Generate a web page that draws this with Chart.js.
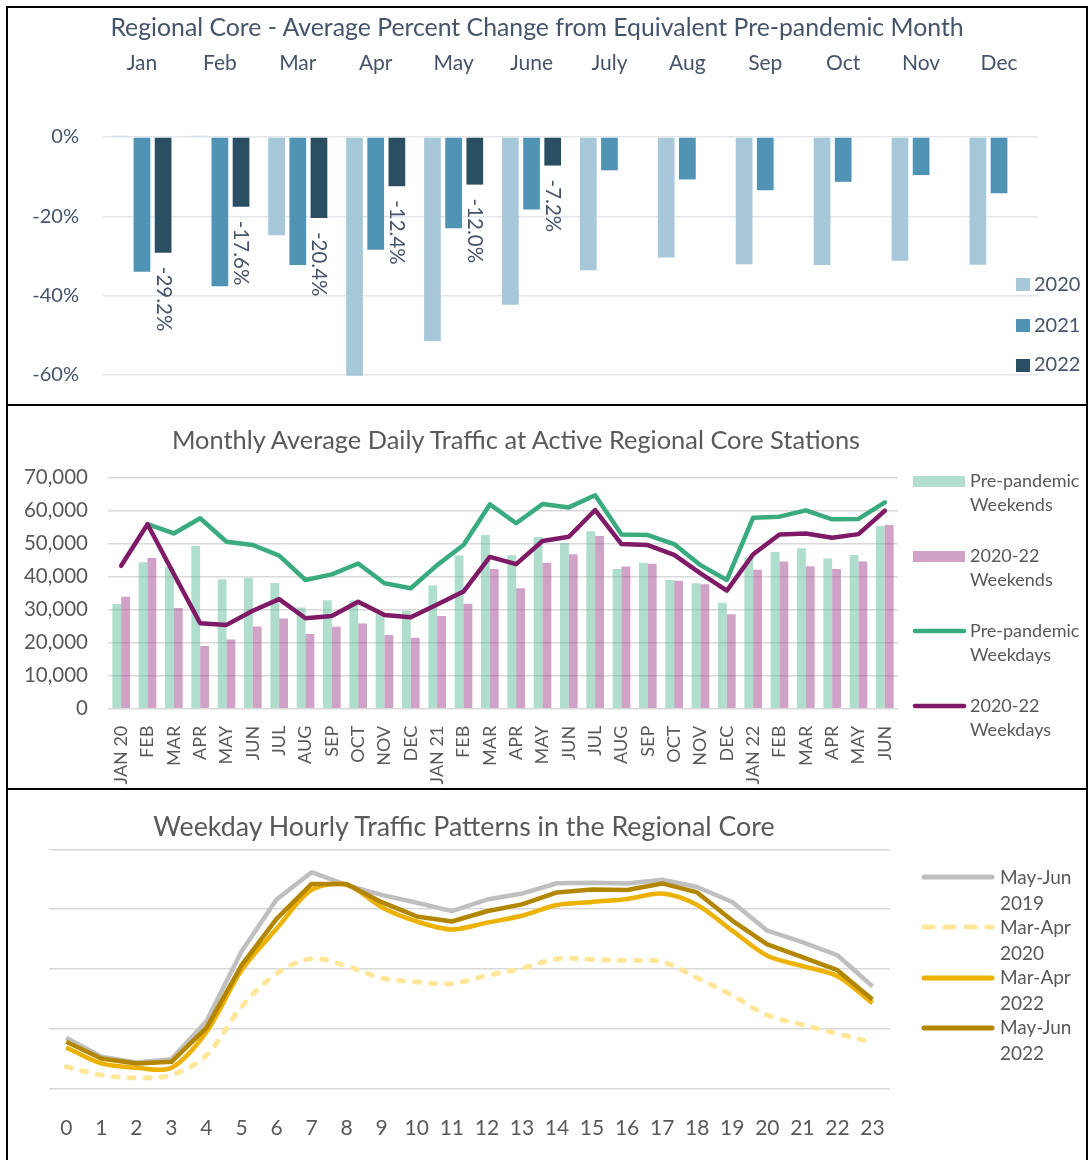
<!DOCTYPE html>
<html>
<head>
<meta charset="utf-8">
<script src="https://cdn.jsdelivr.net/npm/chart.js@4.4.1/dist/chart.umd.min.js"></script>
<style>
  body { margin: 0; width: 1088px; height: 1160px; overflow: hidden; background: #fff; position: relative; font-family: Lato, sans-serif; }
  .panel { position: absolute; left: 6px; width: 1082px; box-sizing: border-box; border: 2px solid #000; }
  canvas { position: absolute; }
  .txt { position: absolute; white-space: nowrap; }
  .title { width: 1000px; text-align: center; }
  .sw { position: absolute; }
</style>
</head>
<body>
<div class="panel" style="top:6px;height:400px"></div>
<div class="panel" style="top:404px;height:386px"></div>
<div class="panel" style="top:788px;height:400px"></div>

<canvas id="pctChart" width="1078" height="403" style="left:8px;top:8px"></canvas>
<canvas id="trafficChart" width="1078" height="382" style="left:8px;top:406px"></canvas>
<canvas id="hourlyChart" width="1078" height="370" style="left:8px;top:790px"></canvas>

<!-- titles -->
<div class="txt title" style="left:37px;top:15px;font-size:24.8px;line-height:24.8px;color:#44546A">Regional Core - Average Percent Change from Equivalent Pre-pandemic Month</div>
<div class="txt title" style="left:16px;top:427px;font-size:25.4px;line-height:25.4px;color:#595959">Monthly Average Daily Traffic at Active Regional Core Stations</div>
<div class="txt title" style="left:-36px;top:813px;font-size:26.8px;line-height:26.8px;color:#595959">Weekday Hourly Traffic Patterns in the Regional Core</div>

<!-- legend: percent change -->
<div class="sw" style="left:1016px;top:278px;width:14px;height:13px;background:#A6C8D9"></div>
<div class="sw" style="left:1016px;top:319px;width:14px;height:13px;background:#5193B5"></div>
<div class="sw" style="left:1016px;top:359px;width:14px;height:13px;background:#2A4E62"></div>
<div class="txt" style="left:1034px;top:273px;font-size:20px;line-height:20px;color:#44546A">2020</div>
<div class="txt" style="left:1034px;top:314px;font-size:20px;line-height:20px;color:#44546A">2021</div>
<div class="txt" style="left:1034px;top:353px;font-size:20px;line-height:20px;color:#44546A">2022</div>

<!-- legend: daily traffic -->
<div class="sw" style="left:913px;top:476px;width:52px;height:11px;background:#B1DECD"></div>
<div class="sw" style="left:913px;top:551px;width:52px;height:11px;background:#D1A2C7"></div>
<svg class="sw" style="left:0;top:0" width="1088" height="1160">
  <line x1="915" y1="631" x2="964" y2="631" stroke="#3AAB7E" stroke-width="4.5" stroke-linecap="round"/>
  <line x1="915" y1="706" x2="964" y2="706" stroke="#7E1A66" stroke-width="4.5" stroke-linecap="round"/>
  <line x1="924" y1="877" x2="992" y2="877" stroke="#BFBFBF" stroke-width="5" stroke-linecap="round"/>
  <line x1="924" y1="927" x2="992" y2="927" stroke="#FFE699" stroke-width="5" stroke-linecap="round" stroke-dasharray="9 12"/>
  <line x1="924" y1="978" x2="992" y2="978" stroke="#EDB100" stroke-width="5" stroke-linecap="round"/>
  <line x1="924" y1="1028" x2="992" y2="1028" stroke="#B38600" stroke-width="5" stroke-linecap="round"/>
</svg>
<div class="txt" style="left:970px;top:468px;font-size:18px;line-height:24px;color:#595959">Pre-pandemic<br>Weekends</div>
<div class="txt" style="left:970px;top:543px;font-size:18px;line-height:24px;color:#595959">2020-22<br>Weekends</div>
<div class="txt" style="left:970px;top:618px;font-size:18px;line-height:24px;color:#595959">Pre-pandemic<br>Weekdays</div>
<div class="txt" style="left:970px;top:693px;font-size:18px;line-height:24px;color:#595959">2020-22<br>Weekdays</div>

<!-- legend: hourly -->
<div class="txt" style="left:1000px;top:864px;font-size:19px;line-height:25.5px;color:#595959">May-Jun<br>2019</div>
<div class="txt" style="left:1000px;top:914px;font-size:19px;line-height:25.5px;color:#595959">Mar-Apr<br>2020</div>
<div class="txt" style="left:1000px;top:964px;font-size:19px;line-height:25.5px;color:#595959">Mar-Apr<br>2022</div>
<div class="txt" style="left:1000px;top:1014px;font-size:19px;line-height:25.5px;color:#595959">May-Jun<br>2022</div>

<script>
// percent change from equivalent pre-pandemic month
const months = ['Jan', 'Feb', 'Mar', 'Apr', 'May', 'June', 'July', 'Aug', 'Sep', 'Oct', 'Nov', 'Dec'];
const pct2020 = [0.3, 0.3, -24.8, -60.2, -51.4, -42.3, -33.6, -30.4, -32.1, -32.3, -31.2, -32.2];
const pct2021 = [-34.0, -37.6, -32.3, -28.4, -23.0, -18.3, -8.4, -10.7, -13.4, -11.3, -9.6, -14.2];
const pct2022 = [-29.2, -17.6, -20.4, -12.4, -12.0, -7.2, null, null, null, null, null, null];

// monthly average daily traffic
const trafficMonths = ['JAN 20', 'FEB', 'MAR', 'APR', 'MAY', 'JUN', 'JUL', 'AUG', 'SEP', 'OCT', 'NOV', 'DEC',
  'JAN 21', 'FEB', 'MAR', 'APR', 'MAY', 'JUN', 'JUL', 'AUG', 'SEP', 'OCT', 'NOV', 'DEC',
  'JAN 22', 'FEB', 'MAR', 'APR', 'MAY', 'JUN'];
const prePandemicWeekends = [31700, 44400, 43000, 49300, 39200, 39700, 38100, 30700, 32900, 32800, 28800, 29700,
  37300, 46400, 52600, 46600, 52000, 50200, 53800, 42300, 44200, 39000, 38000, 32100,
  45800, 47500, 48600, 45500, 46600, 55400];
const weekends2020to22 = [33900, 45700, 30500, 19000, 21000, 24900, 27300, 22600, 24800, 25800, 22300, 21500,
  28100, 31800, 42300, 36500, 44200, 46800, 52300, 43100, 43900, 38800, 37700, 28600,
  42100, 44600, 43200, 42300, 44600, 55700];
const prePandemicWeekdays = [null, 55900, 53100, 57700, 50600, 49600, 46400, 39000, 40700, 44000, 38000, 36500,
  43500, 49600, 61900, 56200, 62000, 61000, 64700, 52800, 52600, 49900, 43500, 39000,
  57900, 58200, 60100, 57400, 57500, 62500];
const weekdays2020to22 = [43300, 55900, 40800, 25900, 25400, 29700, 33200, 27400, 28100, 32400, 28400, 27700,
  31600, 35500, 46000, 43800, 50800, 52100, 60200, 49900, 49600, 46600, 41000, 35800,
  46800, 52800, 53100, 51800, 52900, 60000];

// weekday hourly traffic (no y labels on the original, units arbitrary)
const hours = ['0', '1', '2', '3', '4', '5', '6', '7', '8', '9', '10', '11', '12', '13', '14', '15', '16', '17', '18', '19', '20', '21', '22', '23'];
const mayJun2019 = [850, 533, 440, 494, 1128, 2294, 3161, 3617, 3400, 3239, 3106, 2967, 3160, 3260, 3433, 3440, 3430, 3490, 3370, 3120, 2640, 2450, 2230, 1710];
const marApr2020 = [367, 228, 183, 228, 561, 1367, 1922, 2172, 2050, 1850, 1783, 1756, 1890, 2010, 2170, 2160, 2140, 2120, 1850, 1560, 1230, 1070, 920, 770];
const marApr2022 = [689, 422, 350, 350, 950, 1978, 2672, 3322, 3406, 3033, 2794, 2661, 2775, 2890, 3070, 3120, 3170, 3260, 3070, 2640, 2220, 2050, 1880, 1430];
const mayJun2022 = [783, 506, 422, 450, 1017, 2061, 2839, 3422, 3422, 3117, 2878, 2794, 2965, 3080, 3280, 3330, 3320, 3430, 3280, 2810, 2410, 2200, 1980, 1490];

const slate = '#44546A';
const grey = '#595959';

// 2022 value labels, rotated, under the end of each bar
const barLabels = {
  id: 'barLabels',
  afterDatasetsDraw(chart) {
    const ctx = chart.ctx;
    const meta = chart.getDatasetMeta(2);
    ctx.save();
    ctx.fillStyle = slate;
    ctx.font = '20.5px Lato';
    ctx.textAlign = 'left';
    ctx.textBaseline = 'middle';
    meta.data.forEach((bar, i) => {
      const v = pct2022[i];
      if (v === null) return;
      ctx.save();
      ctx.translate(bar.x, bar.y + 14);
      ctx.rotate(Math.PI / 2);
      ctx.fillText(v.toFixed(1) + '%', 0, 0);
      ctx.restore();
    });
    ctx.restore();
  }
};

new Chart(document.getElementById('pctChart'), {
  type: 'bar',
  data: {
    labels: months,
    datasets: [
      { label: '2020', data: pct2020, backgroundColor: '#A6C8D9', clip: false, categoryPercentage: 0.815, barPercentage: 0.79 },
      { label: '2021', data: pct2021, backgroundColor: '#5193B5', clip: false, categoryPercentage: 0.815, barPercentage: 0.79 },
      { label: '2022', data: pct2022, backgroundColor: '#2A4E62', clip: false, categoryPercentage: 0.815, barPercentage: 0.79 }
    ]
  },
  options: {
    responsive: false,
    animation: false,
    // bottom room comes from the y tick padding (label half height + 24)
    layout: { padding: { top: 0, right: 48, bottom: 0, left: 0 } },
    plugins: { legend: { display: false }, tooltip: { enabled: false } },
    scales: {
      x: {
        position: 'top',
        grid: { display: false },
        border: { display: false },
        ticks: { color: slate, font: { family: 'Lato', size: 21 }, padding: 53 },
        afterFit: (s) => { s.height = 129; }
      },
      y: {
        min: -60,
        max: 0,
        ticks: { stepSize: 20, color: slate, font: { family: 'Lato', size: 20 }, padding: 24, callback: (v) => v + '%' },
        grid: { color: '#E2E6EA', lineWidth: 1.5, drawTicks: false },
        border: { display: false },
        afterFit: (s) => { s.width = 95; }
      }
    }
  },
  plugins: [barLabels]
});

new Chart(document.getElementById('trafficChart'), {
  type: 'bar',
  data: {
    labels: trafficMonths,
    datasets: [
      { type: 'line', label: 'Pre-pandemic Weekdays', data: prePandemicWeekdays, borderColor: '#3AAB7E', borderWidth: 4.5,
        pointRadius: 0, borderJoinStyle: 'round', borderCapStyle: 'round', order: 1 },
      { type: 'line', label: '2020-22 Weekdays', data: weekdays2020to22, borderColor: '#7E1A66', borderWidth: 4.5,
        pointRadius: 0, borderJoinStyle: 'round', borderCapStyle: 'round', order: 0 },
      { label: 'Pre-pandemic Weekends', data: prePandemicWeekends, backgroundColor: 'rgba(98,190,155,0.5)',
        categoryPercentage: 0.67, barPercentage: 1, order: 2 },
      { label: '2020-22 Weekends', data: weekends2020to22, backgroundColor: 'rgba(164,70,144,0.5)',
        categoryPercentage: 0.67, barPercentage: 1, order: 2 }
    ]
  },
  options: {
    responsive: false,
    animation: false,
    layout: { padding: { top: 71.7, right: 188, bottom: 0, left: 0 } },
    plugins: { legend: { display: false }, tooltip: { enabled: false } },
    scales: {
      x: {
        grid: { display: false },
        border: { display: false },
        ticks: { color: grey, font: { family: 'Lato', size: 18 }, padding: 9, minRotation: 90, maxRotation: 90, autoSkip: false },
        afterFit: (s) => { s.height = 79.3; }
      },
      y: {
        min: 0,
        max: 70000,
        ticks: { stepSize: 10000, color: grey, font: { family: 'Lato', size: 20.5 }, padding: 20,
          callback: (v) => v.toLocaleString('en-US') },
        grid: { color: '#D9D9D9', lineWidth: 1.5, drawTicks: false },
        border: { display: false },
        afterFit: (s) => { s.width = 100; }
      }
    }
  }
});

new Chart(document.getElementById('hourlyChart'), {
  type: 'line',
  data: {
    labels: hours,
    datasets: [
      { label: 'May-Jun 2019', data: mayJun2019, borderColor: '#BFBFBF', borderWidth: 4.5, pointRadius: 0,
        borderJoinStyle: 'round', order: 4 },
      { label: 'Mar-Apr 2020', data: marApr2020, borderColor: '#FFE699', borderWidth: 5, pointRadius: 0,
        borderDash: [5, 11], borderCapStyle: 'round', tension: 0.35, order: 3 },
      { label: 'Mar-Apr 2022', data: marApr2022, borderColor: '#EDB100', borderWidth: 4.5, pointRadius: 0,
        borderJoinStyle: 'round', tension: 0.3, order: 2 },
      { label: 'May-Jun 2022', data: mayJun2022, borderColor: '#B38600', borderWidth: 4.5, pointRadius: 0,
        borderJoinStyle: 'round', order: 1 }
    ]
  },
  options: {
    responsive: false,
    animation: false,
    layout: { padding: { top: 59.3, right: 196, bottom: 0, left: 40.7 } },
    plugins: { legend: { display: false }, tooltip: { enabled: false } },
    scales: {
      x: {
        offset: true,
        grid: { display: false },
        border: { display: false },
        ticks: { color: grey, font: { family: 'Lato', size: 21 }, padding: 19 },
        afterFit: (s) => { s.height = 71.3; }
      },
      y: {
        min: 0,
        max: 4000,
        ticks: { display: false, stepSize: 1000 },
        grid: { color: '#D9D9D9', lineWidth: 1.5, drawTicks: false },
        border: { display: false },
        afterFit: (s) => { s.width = 0; }
      }
    }
  }
});
</script>
</body>
</html>
